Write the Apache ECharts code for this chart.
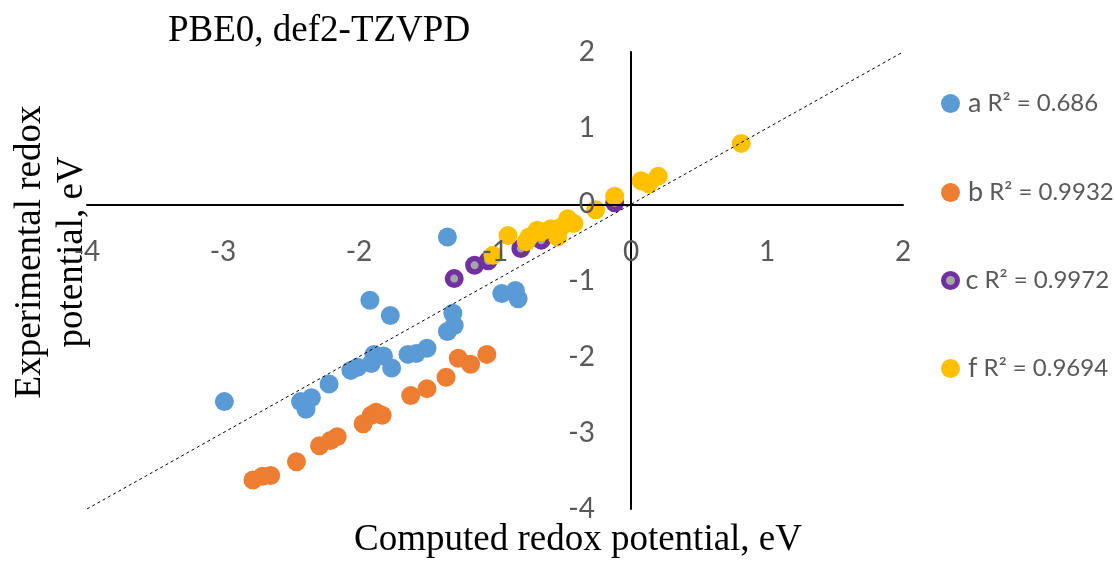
<!DOCTYPE html>
<html>
<head>
<meta charset="utf-8">
<script src="https://cdn.jsdelivr.net/npm/echarts@6/dist/echarts.min.js"></script>
<style>
  html, body { margin: 0; padding: 0; background: #fff; }
  #chart { width: 1115px; height: 563px; }
</style>
</head>
<body>
<div id="chart"></div>
<script>
// Computed vs experimental redox potentials (eV), PBE0 / def2-TZVPD
const seriesNames = ['a', 'b', 'c', 'f'];
const r2Values = ['0.686', '0.9932', '0.9972', '0.9694'];

const pointsA = [
  [-1.35, -0.43], [-1.92, -1.26], [-1.77, -1.46], [-2.99, -2.59], [-0.95, -1.17],
  [-0.85, -1.13], [-0.83, -1.24], [-1.31, -1.43], [-1.30, -1.59], [-1.35, -1.67],
  [-1.50, -1.89], [-1.58, -1.96], [-1.64, -1.97], [-1.89, -1.97], [-1.82, -1.99],
  [-1.76, -2.15], [-1.91, -2.09], [-2.01, -2.14], [-2.06, -2.18], [-2.22, -2.36],
  [-2.35, -2.54], [-2.43, -2.59], [-2.39, -2.69]
];
const pointsB = [
  [-2.78, -3.62], [-2.71, -3.57], [-2.65, -3.56], [-2.46, -3.38], [-2.29, -3.17],
  [-2.21, -3.10], [-2.16, -3.05], [-1.97, -2.88], [-1.91, -2.77], [-1.875, -2.73],
  [-1.83, -2.77], [-1.62, -2.51], [-1.50, -2.42], [-1.36, -2.27], [-1.27, -2.02],
  [-1.18, -2.10], [-1.06, -1.97]
];
const pointsC = [
  [-1.30, -0.975], [-1.15, -0.80], [-1.05, -0.74], [-0.81, -0.58], [-0.66, -0.47],
  [-0.46, -0.24], [-0.12, 0.02]
];
const pointsF = [
  [-1.015, -0.67], [-0.905, -0.41], [-0.77, -0.49], [-0.75, -0.43], [-0.69, -0.34],
  [-0.66, -0.36], [-0.59, -0.32], [-0.54, -0.43], [-0.515, -0.30], [-0.465, -0.19],
  [-0.42, -0.25], [-0.26, -0.07], [-0.12, 0.105], [0.074, 0.31], [0.13, 0.27],
  [0.20, 0.37], [0.81, 0.80]
];
// y = x reference line
const identityLine = [[-4, -4], [2, 2]];

const xRange = [-4, 2];
const yRange = [-4, 2];

const seriesColors = ['#5B9BD5', '#ED7D31', '#A5A5A5', '#FFC000'];
const serif = '"Liberation Serif", "Times New Roman", serif';
const sans = 'Lato, "Open Sans", sans-serif';

const W = 1115, H = 563;
const grid = { left: 87, right: 212, top: 52, bottom: 54 };
const gridW = W - grid.left - grid.right;
const gridH = H - grid.top - grid.bottom;
// Shift each axis (line + labels) from the grid edge onto the other axis' zero
const xAxisOffset = -gridH * (0 - yRange[0]) / (yRange[1] - yRange[0]);
const yAxisOffset = -gridW * (0 - xRange[0]) / (xRange[1] - xRange[0]);

const chart = echarts.init(document.getElementById('chart'), null, { renderer: 'canvas' });

function makeLegend(idx, top) {
  const item = { name: seriesNames[idx] };
  if (idx === 2) {
    item.itemStyle = { color: '#A5A5A5', borderColor: '#7030A0', borderWidth: 5 };
  }
  return {
    data: [item],
    left: 936,
    top: top,
    orient: 'vertical',
    icon: 'circle',
    itemWidth: idx === 2 ? 14 : 19,
    itemHeight: idx === 2 ? 14 : 19,
    selectedMode: false,
    formatter: function (name) {
      return '{n|' + name + '}{r| R² = ' + r2Values[idx] + '}';
    },
    textStyle: {
      color: '#595959',
      fontFamily: sans,
      rich: {
        n: { fontSize: 27, fontFamily: sans, color: '#595959', padding: [0, 0, 0, 3] },
        r: { fontSize: 24, fontFamily: sans, color: '#595959' }
      }
    }
  };
}

const option = {
  animation: false,
  backgroundColor: '#ffffff',
  grid: grid,
  xAxis: {
    type: 'value',
    min: xRange[0], max: xRange[1], interval: 1,
    position: 'bottom',
    offset: xAxisOffset,
    z: 10,
    axisLine: { onZero: false, lineStyle: { color: '#000', width: 2 } },
    axisTick: { show: false },
    splitLine: { show: false },
    axisLabel: { color: '#595959', fontSize: 28, fontFamily: sans, margin: 34 }
  },
  yAxis: {
    type: 'value',
    min: yRange[0], max: yRange[1], interval: 1,
    position: 'left',
    offset: yAxisOffset,
    z: 10,
    axisLine: { onZero: false, lineStyle: { color: '#000', width: 2 } },
    axisTick: { show: false },
    splitLine: { show: false },
    axisLabel: { color: '#595959', fontSize: 28, fontFamily: sans, margin: 36 }
  },
  legend: [
    makeLegend(0, 85),
    makeLegend(1, 174),
    makeLegend(2, 262),
    makeLegend(3, 350)
  ],
  graphic: [
    {
      type: 'text', left: 168, top: 13,
      style: { text: 'PBE0, def2-TZVPD', font: '37px ' + serif, fill: '#000' }
    },
    {
      type: 'text', x: 578, y: 540,
      style: { text: 'Computed redox potential, eV', font: '37px ' + serif, fill: '#000',
               textAlign: 'center', textVerticalAlign: 'middle' }
    },
    {
      type: 'text', x: 51, y: 252, rotation: Math.PI / 2,
      style: { text: 'Experimental redox\npotential, eV', font: '37px ' + serif, fill: '#000',
               textAlign: 'center', textVerticalAlign: 'middle', lineHeight: 42 }
    }
  ],
  series: [
    { name: seriesNames[0], type: 'scatter', data: pointsA, symbol: 'circle', symbolSize: 19,
      itemStyle: { color: seriesColors[0], opacity: 1 } },
    { name: seriesNames[1], type: 'scatter', data: pointsB, symbol: 'circle', symbolSize: 19,
      itemStyle: { color: seriesColors[1], opacity: 1 } },
    { name: seriesNames[2], type: 'scatter', data: pointsC, symbol: 'circle', symbolSize: 13.5,
      itemStyle: { color: seriesColors[2], borderColor: '#7030A0', borderWidth: 5.5, opacity: 1 } },
    { name: seriesNames[3], type: 'scatter', data: pointsF, symbol: 'circle', symbolSize: 19,
      itemStyle: { color: seriesColors[3], opacity: 1 } },
    { name: 'trend', type: 'line', data: identityLine, symbol: 'none', silent: true, z: 5,
      lineStyle: { color: '#000', width: 1, type: [3, 3] } }
  ]
};

chart.setOption(option);
</script>
</body>
</html>
